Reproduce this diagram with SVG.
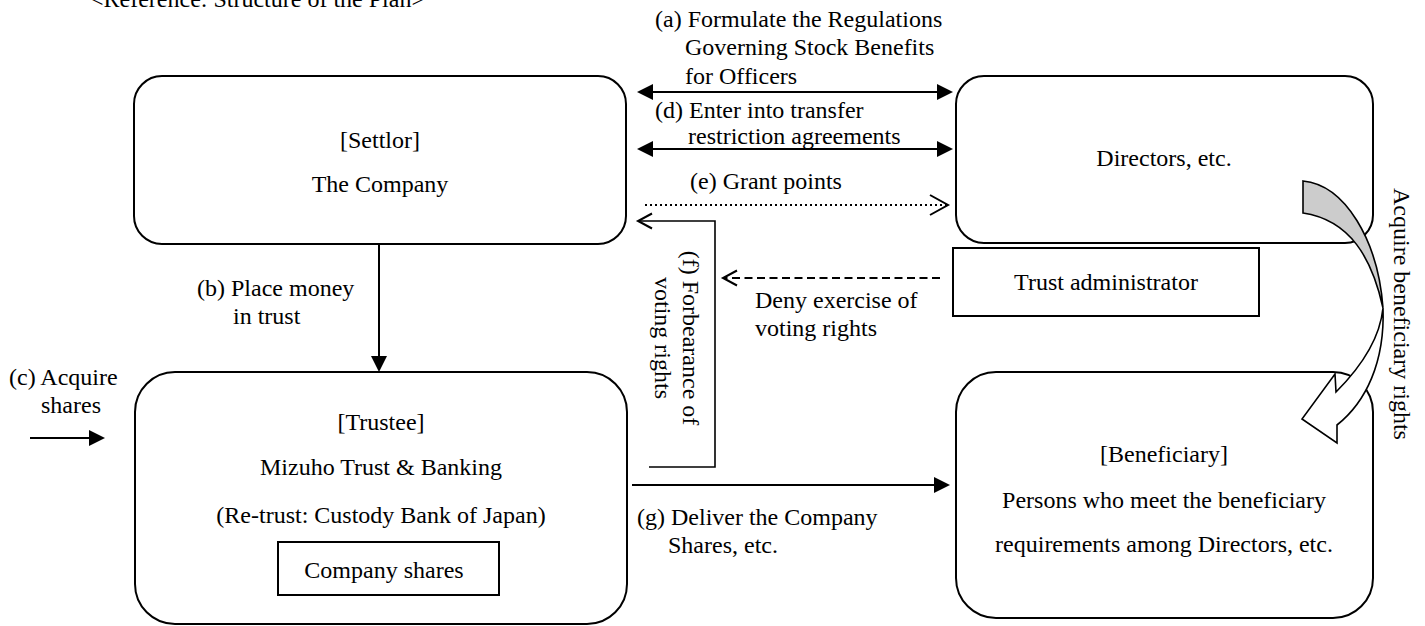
<svg xmlns="http://www.w3.org/2000/svg" width="1425" height="626" viewBox="0 0 1425 626">
<style>
text { font-family: "Liberation Serif", "Times New Roman", serif; font-size: 24px; fill: #000; }
.box { fill: #fff; stroke: #000; stroke-width: 2; }
.ln { fill: none; stroke: #000; stroke-width: 2; }
.thin { fill: none; stroke: #000; stroke-width: 1.6; }
.dot { fill: none; stroke: #000; stroke-width: 2; stroke-dasharray: 2 3; }
.dash { fill: none; stroke: #000; stroke-width: 2; stroke-dasharray: 8 4.5; }
.c { text-anchor: middle; }
.shape { stroke: #000; stroke-width: 1.6; stroke-linejoin: miter; }
</style>
<defs>
<marker id="tri" viewBox="0 0 16 16" markerWidth="16" markerHeight="16" refX="12" refY="8" orient="auto-start-reverse" markerUnits="userSpaceOnUse"><path d="M0,0 L16,8 L0,16 Z" fill="#000"/></marker>
<marker id="vee" viewBox="-2 -2 20 20" markerWidth="20" markerHeight="20" refX="14" refY="7.5" orient="auto" markerUnits="userSpaceOnUse"><path d="M0,0 L14,7.5 L0,15" fill="none" stroke="#000" stroke-width="2"/></marker>
<marker id="vee2" viewBox="-2 -2 24 24" markerWidth="24" markerHeight="24" refX="18" refY="10" orient="auto" markerUnits="userSpaceOnUse"><path d="M0,0 L18,10 L0,20" fill="none" stroke="#000" stroke-width="2"/></marker>
</defs>

<text x="90" y="7">&lt;Reference: Structure of the Plan&gt;</text>

<g id="settlor">
<rect class="box" x="134" y="76" width="492" height="168" rx="28"/>
<text class="c" x="380" y="148">[Settlor]</text>
<text class="c" x="380" y="192">The Company</text>
</g>

<g id="directors">
<rect class="box" x="956" y="76" width="417" height="167" rx="28"/>
<text class="c" x="1164" y="166">Directors, etc.</text>
</g>

<g id="trust-administrator">
<rect class="box" x="953" y="248" width="306" height="68"/>
<text class="c" x="1106" y="290">Trust administrator</text>
</g>

<g id="trustee">
<rect class="box" x="135" y="372" width="492" height="252" rx="40"/>
<text class="c" x="381" y="430">[Trustee]</text>
<text class="c" x="381" y="475">Mizuho Trust &amp; Banking</text>
<text class="c" x="381" y="523">(Re-trust: Custody Bank of Japan)</text>
<g id="company-shares">
<rect class="box" x="278" y="542" width="221" height="53"/>
<text class="c" x="384" y="578">Company shares</text>
</g>
</g>

<g id="beneficiary">
<rect class="box" x="956" y="372" width="417" height="246" rx="40"/>
<text class="c" x="1164" y="462">[Beneficiary]</text>
<text class="c" x="1164" y="508">Persons who meet the beneficiary</text>
<text class="c" x="1164" y="552">requirements among Directors, etc.</text>
</g>

<g id="connectors">
<line class="ln" x1="641" y1="92" x2="949" y2="92" marker-start="url(#tri)" marker-end="url(#tri)"/>
<text x="655" y="27">(a) Formulate the Regulations</text>
<text x="685" y="55">Governing Stock Benefits</text>
<text x="685" y="84">for Officers</text>

<line class="ln" x1="641" y1="149" x2="949" y2="149" marker-start="url(#tri)" marker-end="url(#tri)"/>
<text x="655" y="118">(d) Enter into transfer</text>
<text x="688" y="144">restriction agreements</text>

<line class="dot" x1="645" y1="205" x2="948" y2="205" marker-end="url(#vee2)"/>
<text x="690" y="189">(e) Grant points</text>

<polyline class="thin" points="649,467 715,467 715,221 638,221" marker-end="url(#vee)"/>
<text class="c" transform="translate(683,338) rotate(90)">(f) Forbearance of</text>
<text class="c" transform="translate(655,338) rotate(90)">voting rights</text>

<line class="dash" x1="940" y1="278" x2="723" y2="278" marker-end="url(#vee)"/>
<text x="755" y="308">Deny exercise of</text>
<text x="755" y="336">voting rights</text>

<line class="ln" x1="379" y1="244" x2="379" y2="368" marker-end="url(#tri)"/>
<text x="197" y="296">(b) Place money</text>
<text x="233" y="324">in trust</text>

<line class="ln" x1="30" y1="438" x2="101" y2="438" marker-end="url(#tri)"/>
<text x="9" y="385">(c) Acquire</text>
<text x="41" y="413">shares</text>

<line class="ln" x1="632" y1="485" x2="946" y2="485" marker-end="url(#tri)"/>
<text x="637" y="525">(g) Deliver the Company</text>
<text x="668" y="553">Shares, etc.</text>

<g id="curved-arrow">
<path class="shape" fill="#cccccc" d="M1303,181 C1345,185 1378,240 1383,308 C1372,258 1350,220 1303,213 Z"/>
<path class="shape" fill="#ffffff" d="M1383,308 C1380,338 1362,366 1336,392 L1335,374 L1302,419 L1337,443 L1337,425 C1366,402 1385,362 1383,308 Z"/>
</g>
<text transform="translate(1394,188) rotate(90)">Acquire beneficiary rights</text>
</g>
</svg>
